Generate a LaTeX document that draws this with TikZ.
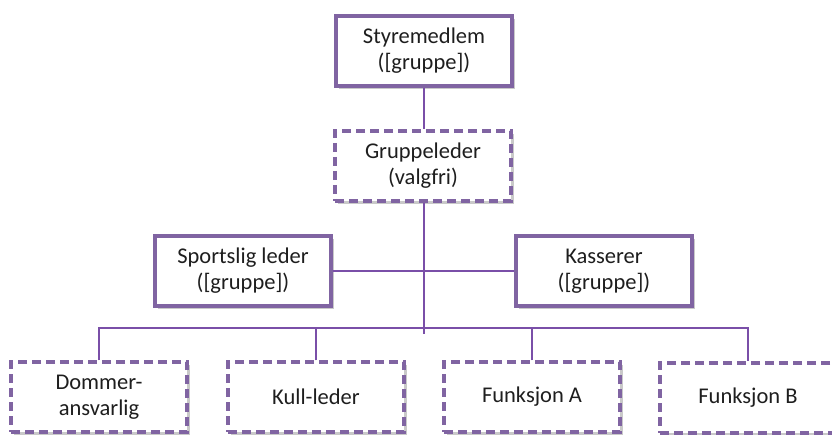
\documentclass[tikz,border=0pt]{standalone}
\usepackage{fontspec}
\setmainfont{Carlito}
\usetikzlibrary{shadows}
\definecolor{boxpurple}{HTML}{8064A2}
\definecolor{linepurple}{HTML}{7A4FA8}
\definecolor{txt}{HTML}{1E1E1E}
\tikzset{
  orgbox/.style={draw=boxpurple, line width=3.2pt, fill=white, minimum width=176pt, minimum height=70pt,
    align=center, text=txt, font=\fontsize{22.5}{26}\selectfont, inner sep=0pt,
    drop shadow={shadow xshift=2.5pt, shadow yshift=-3pt, opacity=0.3, fill=black!70}},
  optbox/.style={orgbox, dash pattern=on 9pt off 5pt},
  conn/.style={draw=linepurple, line width=2pt}
}
\begin{document}
\begin{tikzpicture}[x=1pt,y=-1pt]
\useasboundingbox (0,0) rectangle (832,435);
\node[orgbox] (sty) at (424,51) {Styremedlem\\([gruppe])};
\node[optbox] (grp) at (423,166) {Gruppeleder\\(valgfri)};
\node[orgbox] (spo) at (243,271) {Sportslig leder\\([gruppe])};
\node[orgbox] (kas) at (604,271) {Kasserer\\([gruppe])};
\node[optbox] (dom) at (99,397) {Dommer-\\ansvarlig};
\node[optbox] (kul) at (316,397) {Kull-leder};
\node[optbox] (fa) at (532,397) {Funksjon A};
\node[optbox] (fb) at (748,398) {Funksjon B};
\coordinate (busL) at (99,328);
\coordinate (vend) at (424,334);
\draw[conn] (sty.south -| 424,0) -- (grp.north -| 424,0);
\draw[conn] (grp.south -| 424,0) -- (vend);
\draw[conn] (spo.east) -- (kas.west);
\draw[conn] (dom.north) -- (dom.north |- busL) -- (fb.north |- busL) -- (fb.north);
\draw[conn] (kul.north) -- (kul.north |- busL);
\draw[conn] (fa.north) -- (fa.north |- busL);
\end{tikzpicture}
\end{document}
